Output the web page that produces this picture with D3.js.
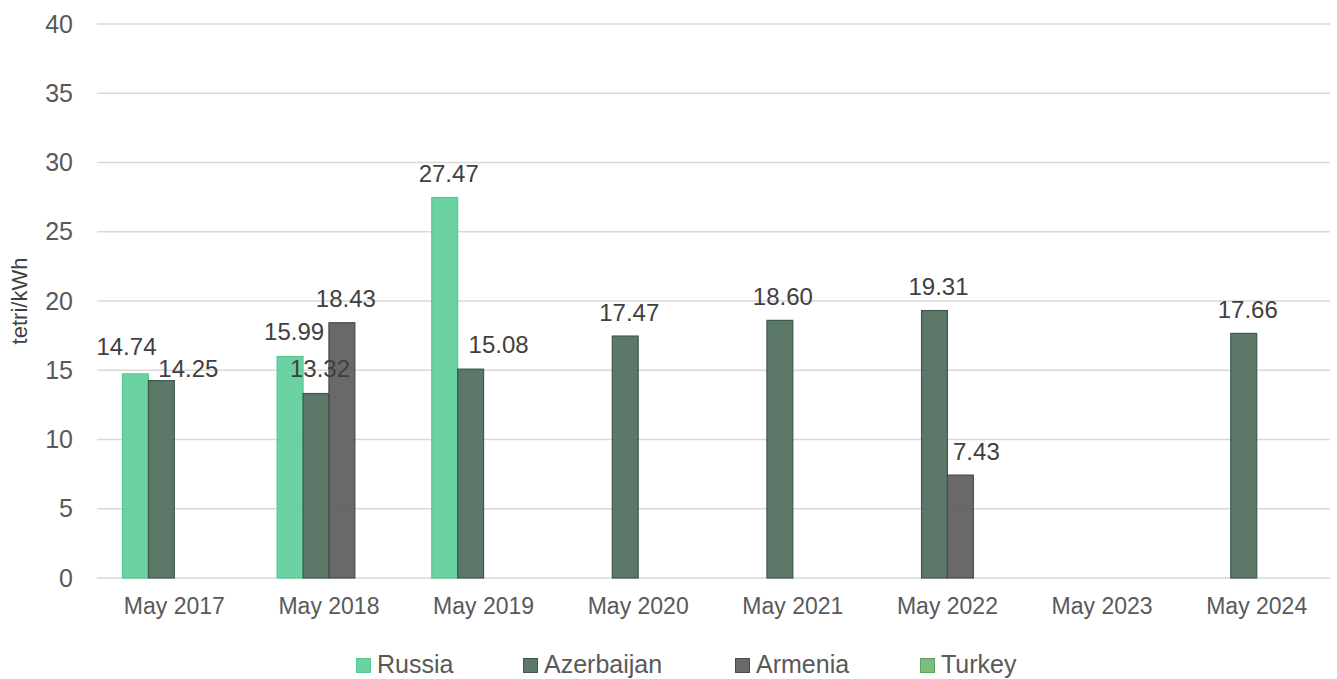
<!DOCTYPE html>
<html>
<head>
<meta charset="utf-8">
<script src="https://cdn.jsdelivr.net/npm/d3@7"></script>
<style>
  html, body { margin: 0; padding: 0; background: #fff; }
  svg { display: block; font-family: "Liberation Sans", Arial, sans-serif; }
</style>
</head>
<body>
<svg id="chart" width="1337" height="679"></svg>
<script>
// Electricity import prices by source country, tetri/kWh
const categories = ["May 2017", "May 2018", "May 2019", "May 2020", "May 2021", "May 2022", "May 2023", "May 2024"];
const seriesNames = ["Russia", "Azerbaijan", "Armenia", "Turkey"];
const russia     = [14.74, 15.99, 27.47, null, null, null, null, null];
const azerbaijan = [14.25, 13.32, 15.08, 17.47, 18.60, 19.31, null, 17.66];
const armenia    = [null, 18.43, null, null, null, 7.43, null, null];
const turkey     = [null, null, null, null, null, null, null, null];
const yTicks = [0, 5, 10, 15, 20, 25, 30, 35, 40];

const seriesValues = [russia, azerbaijan, armenia, turkey];
const fills   = ["#5acd99", "#496959", "#595959", "#71b271"];
const strokes = ["#58c893", "#3d5a4b", "#4a4a4a", "#5f9f5f"];

// Manual label nudges (dx, dy) where labels would otherwise collide
const labelNudge = {
  "Russia|May 2017": [-13, -3],
  "Azerbaijan|May 2017": [23, 12],
  "Azerbaijan|May 2019": [24, -1],
  "Russia|May 2018": [0, -1],
  "Azerbaijan|May 2018": [0, -1],
  "Armenia|May 2022": [12, 0],
  "Azerbaijan|May 2021": [-1, 0]
};
const labelDx = 4, labelDy = -15.5;

const svg = d3.select("#chart");
const margin = { left: 97, right: 3, top: 24, bottom: 101 };
const W = 1337, H = 679;

const x0 = d3.scaleBand().domain(categories)
  .range([margin.left, W - margin.right]).paddingInner(0.33).paddingOuter(0.165);
const x1 = d3.scaleBand().domain(seriesNames).range([0, x0.bandwidth()]);
const y = d3.scaleLinear().domain([0, 40]).range([H - margin.bottom, margin.top]);

// Gridlines
svg.append("g").selectAll("line").data(yTicks).join("line")
  .attr("x1", margin.left).attr("x2", W - 7)
  .attr("y1", d => y(d)).attr("y2", d => y(d))
  .attr("stroke", "#d9d9d9").attr("stroke-width", 1.5);

// Y axis
const yAxis = svg.append("g").attr("transform", `translate(${margin.left - 24},0)`)
  .call(d3.axisLeft(y).tickValues(yTicks).tickSize(0).tickPadding(0));
yAxis.select(".domain").remove();
yAxis.selectAll("text").attr("font-size", 25).attr("fill", "#595959")
  .attr("font-family", "Liberation Sans, Arial, sans-serif");

svg.append("text")
  .attr("transform", `translate(27,${y(20)}) rotate(-90)`)
  .attr("text-anchor", "middle").attr("font-size", 22).attr("fill", "#404040")
  .text("tetri/kWh");

// X axis
const xAxis = svg.append("g").attr("transform", `translate(0,${y(0)})`)
  .call(d3.axisBottom(x0).tickSize(0).tickPadding(0));
xAxis.select(".domain").remove();
xAxis.selectAll("text").attr("font-size", 23).attr("fill", "#595959")
  .attr("dy", null).attr("y", 36)
  .attr("font-family", "Liberation Sans, Arial, sans-serif");

// Bars
const flat = [];
seriesNames.forEach((s, si) => {
  categories.forEach((c, ci) => {
    const v = seriesValues[si][ci];
    if (v != null) flat.push({ series: s, si, cat: c, value: v });
  });
});

svg.append("g").selectAll("rect").data(flat).join("rect")
  .attr("x", d => x0(d.cat) + x1(d.series))
  .attr("y", d => y(d.value))
  .attr("width", x1.bandwidth())
  .attr("height", d => y(0) - y(d.value))
  .attr("fill", d => fills[d.si]).attr("fill-opacity", 0.9)
  .attr("stroke", d => strokes[d.si]).attr("stroke-width", 1.2);

// Data labels
const nudge = d => labelNudge[d.series + "|" + d.cat] || [0, 0];
svg.append("g").selectAll("text").data(flat).join("text")
  .attr("x", d => x0(d.cat) + x1(d.series) + x1.bandwidth() / 2 + labelDx + nudge(d)[0])
  .attr("y", d => y(d.value) + labelDy + nudge(d)[1])
  .attr("text-anchor", "middle").attr("font-size", 24).attr("fill", "#404040")
  .text(d => d.value.toFixed(2));

// Legend
const legendX = [356, 523, 735, 920];
const legend = svg.append("g").selectAll("g").data(seriesNames).join("g")
  .attr("transform", (d, i) => `translate(${legendX[i]},673)`);
legend.append("rect").attr("x", 0.5).attr("y", -14.5).attr("width", 14).attr("height", 14)
  .attr("fill", (d, i) => fills[i]).attr("fill-opacity", 0.9)
  .attr("stroke", (d, i) => strokes[i]).attr("stroke-width", 1);
legend.append("text").attr("x", 21).attr("y", 0)
  .attr("font-size", 25).attr("fill", "#595959").text(d => d);
</script>
</body>
</html>
